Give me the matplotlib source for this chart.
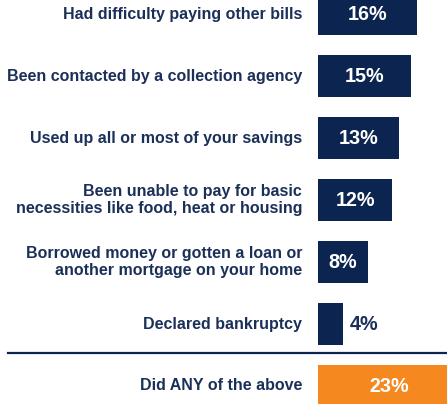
import numpy as np
import matplotlib.pyplot as plt

plt.rcParams['font.family'] = ['Liberation Sans', 'DejaVu Sans']

labels = ["Had difficulty paying other bills",
          "Been contacted by a collection agency",
          "Used up all or most of your savings",
          "Been unable to pay for basic\nnecessities like food, heat or housing",
          "Borrowed money or gotten a loan or\nanother mortgage on your home",
          "Declared bankruptcy",
          "Did ANY of the above"]
values = [16, 15, 13, 12, 8, 4, 23]
colors = ['#0b2550'] * 6 + ['#f5891f']

navy = '#0b2550'
text_col = '#1b3058'

fig = plt.figure(figsize=(4.47, 4.04), dpi=100)
ax = fig.add_axes([318 / 447, 0, 1 - 318 / 447, 1])

y = np.arange(len(values))
ax.barh(y, values, height=0.68, color=colors)
ax.set_xlim(0, (447 - 318) / 6.2)
ax.set_ylim((404 - 14) / 62, -14 / 62)
ax.axis('off')

for i, (lab, v) in enumerate(zip(labels, values)):
    ax.annotate(lab, xy=(0, i), xytext=(-16, 0), textcoords='offset pixels',
                ha='right', va='center', fontsize=11.5, fontweight='bold',
                color=text_col, linespacing=1.2, annotation_clip=False)
    if v >= 6:
        ax.text(v / 2, i, f"{v}%", ha='center', va='center', fontsize=14.2,
                fontweight='bold', color='white', clip_on=False)
    else:
        ax.annotate(f"{v}%", xy=(v, i), xytext=(7, 0), textcoords='offset pixels',
                    ha='left', va='center', fontsize=14.2, fontweight='bold',
                    color=text_col)

# separator line above the total
fig.add_artist(plt.Line2D([8 / 447, 1], [1 - 353 / 404, 1 - 353 / 404],
                          color=navy, lw=1.6))

fig.savefig('out.png', dpi=100)
